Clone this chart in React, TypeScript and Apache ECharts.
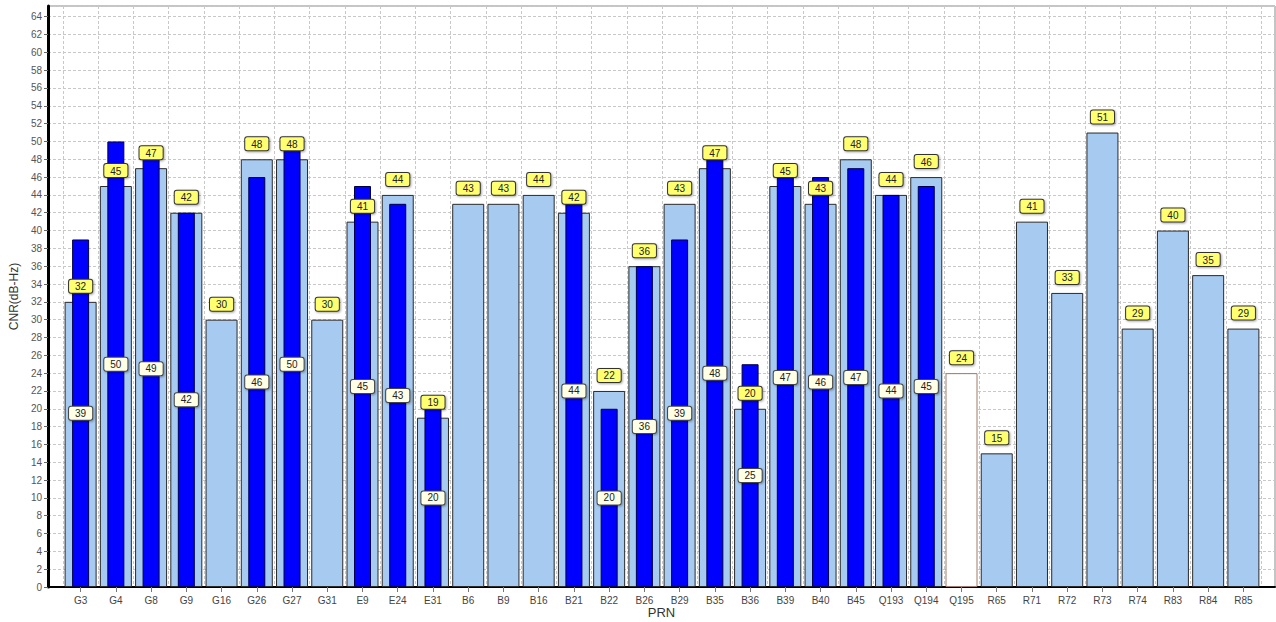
import React, { useEffect, useRef } from "react";
import * as echarts from "echarts";

const categories = ["G3","G4","G8","G9","G16","G26","G27","G31","E9","E24","E31","B6","B9","B16","B21","B22","B26","B29","B35","B36","B39","B40","B45","Q193","Q194","Q195","R65","R71","R72","R73","R74","R83","R84","R85"];
const lightValues = [32,45,47,42,30,48,48,30,41,44,19,43,43,44,42,22,36,43,47,20,45,43,48,44,46,24,15,41,33,51,29,40,35,29];
const darkValues: (number | null)[] = [39,50,49,42,null,46,50,null,45,43,20,null,null,null,44,20,36,39,48,25,47,46,47,44,45,null,null,null,null,null,null,null,null,null];
const whiteCategories = ["Q195"];

const FONT = "Liberation Sans, Arial, sans-serif";

export default function App() {
  const ref = useRef<HTMLDivElement>(null);
  useEffect(() => {
    const chart = echarts.init(ref.current!, null, { renderer: "svg" });
    const yMax = 65.2;
    const gridTop = 6, gridBottom = 35;
    const lightData = lightValues.map((v, i) =>
      whiteCategories.includes(categories[i])
        ? { value: v, itemStyle: { color: "#ffffff", borderColor: "#a07a68" } }
        : v
    );
    const yLabel = {
      fontFamily: FONT, fontSize: 10, color: "#555",
      formatter: (v: number) => (v % 2 === 0 ? String(v) : ""),
    };
    chart.setOption({
      animation: false,
      backgroundColor: "#ffffff",
      grid: [
        { left: 48, right: 1, top: gridTop, bottom: gridBottom, show: true, borderColor: "#8a8a8a", borderWidth: 1, backgroundColor: "transparent", containLabel: false, outerBoundsMode: "none" },
        { left: 63, right: 15, top: gridTop, bottom: gridBottom, containLabel: false, outerBoundsMode: "none" },
      ],
      xAxis: [
        {
          gridIndex: 0, type: "value", min: 0, max: 1,
          name: "PRN", nameLocation: "middle", nameGap: 19,
          nameTextStyle: { fontFamily: FONT, fontSize: 13, color: "#333" },
          axisLine: { show: true, lineStyle: { color: "#000", width: 2 } },
          axisTick: { show: false }, axisLabel: { show: false }, splitLine: { show: false },
        },
        {
          gridIndex: 1, type: "category", data: categories,
          axisLine: { show: false },
          axisTick: { show: true, alignWithLabel: true, length: 5, lineStyle: { color: "#777" } },
          axisLabel: { fontFamily: FONT, fontSize: 10, color: "#444", margin: 8, interval: 0 },
          splitLine: { show: true, interval: 0, lineStyle: { color: "#c8c8c8", type: [3, 2] } },
        },
        {
          gridIndex: 1, type: "category", data: categories, show: false,
        },
      ],
      yAxis: [
        {
          gridIndex: 0, type: "value", min: 0, max: yMax, interval: 2,
          name: "CNR(dB-Hz)", nameLocation: "middle", nameGap: 28,
          nameTextStyle: { fontFamily: FONT, fontSize: 12, color: "#333" },
          axisLine: { show: true, lineStyle: { color: "#000", width: 3 } },
          axisTick: { show: true, length: 4, lineStyle: { color: "#666" } },
          axisLabel: { ...yLabel, margin: 6, showMaxLabel: false },
          splitLine: { show: true, lineStyle: { color: "#c8c8c8", type: [3, 2] } },
        },
        { gridIndex: 1, type: "value", min: 0, max: yMax, interval: 2, show: false, splitLine: { show: false } },
      ],
      series: [
        {
          name: "light", type: "bar", xAxisIndex: 1, yAxisIndex: 1, z: 2,
          barWidth: 32, data: lightData,
          itemStyle: { color: "#a6caf0", borderColor: "#2a2a2a", borderWidth: 1 },
        },
        {
          name: "lightLabels", type: "bar", xAxisIndex: 1, yAxisIndex: 1, z: 6,
          barWidth: 32, barGap: "-100%", data: lightValues,
          itemStyle: { color: "transparent" },
          label: {
            show: true, position: "top", distance: 9,
            fontFamily: FONT, fontSize: 10, color: "#222",
            backgroundColor: "#ffff70", borderColor: "#333", borderWidth: 1,
            borderRadius: 2, padding: [2, 6, 1, 6],
            shadowColor: "rgba(0,0,0,0.35)", shadowBlur: 2, shadowOffsetX: 1, shadowOffsetY: 1,
          },
        },
        {
          name: "dark", type: "bar", xAxisIndex: 2, yAxisIndex: 1, z: 3,
          barWidth: 17, data: darkValues,
          itemStyle: { color: "#0000ff", borderColor: "#000044", borderWidth: 1 },
        },
        {
          name: "darkLabels", type: "bar", xAxisIndex: 2, yAxisIndex: 1, z: 5,
          barWidth: 17, barGap: "-100%", data: darkValues,
          itemStyle: { color: "transparent" },
          label: {
            show: true, position: "inside",
            fontFamily: FONT, fontSize: 10, color: "#222",
            backgroundColor: "#ffffe6", borderColor: "#444", borderWidth: 1,
            borderRadius: 2, padding: [2, 6, 1, 6],
            shadowColor: "rgba(0,0,0,0.35)", shadowBlur: 2, shadowOffsetX: 1, shadowOffsetY: 1,
          },
        },
      ],
    });
    return () => chart.dispose();
  }, []);
  return <div ref={ref} style={{ width: 1276, height: 622, position: "absolute", left: 0, top: 0 }} />;
}
